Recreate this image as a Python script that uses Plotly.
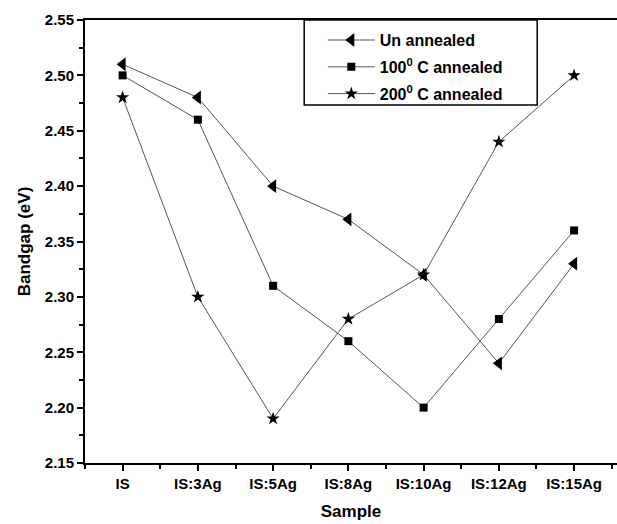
import plotly.graph_objects as go

samples = ["IS", "IS:3Ag", "IS:5Ag", "IS:8Ag", "IS:10Ag", "IS:12Ag", "IS:15Ag"]
un_annealed = [2.51, 2.48, 2.40, 2.37, 2.32, 2.24, 2.33]
annealed_100 = [2.50, 2.46, 2.31, 2.26, 2.20, 2.28, 2.36]
annealed_200 = [2.48, 2.30, 2.19, 2.28, 2.32, 2.44, 2.50]

xpos = list(range(len(samples)))
line_style = dict(color="#555555", width=1)

fig = go.Figure()
fig.add_trace(go.Scatter(x=xpos, y=un_annealed, mode="lines+markers", name="Un annealed", legendgroup="a",
                         line=line_style, marker=dict(symbol="triangle-left", size=12, color="black")))
fig.add_trace(go.Scatter(x=xpos, y=annealed_100, mode="lines+markers", name="100<sup>0</sup> C annealed", legendgroup="b",
                         line=line_style, marker=dict(symbol="square", size=8, color="black")))
fig.add_trace(go.Scatter(x=xpos, y=annealed_200, mode="lines+markers", name="200<sup>0</sup> C annealed", legendgroup="c",
                         line=line_style, marker=dict(symbol="star", size=10, color="black")))

font_family = "Liberation Sans, Arial, sans-serif"
fig.update_layout(
    width=617, height=524,
    margin=dict(l=85, r=0, t=20, b=61),
    plot_bgcolor="white", paper_bgcolor="white",
    font=dict(family=font_family, color="black"),
    showlegend=True,
    legend=dict(x=0.447, y=0.993, xanchor="left", yanchor="top",
                borderwidth=0, bgcolor="rgba(0,0,0,0)",
                font=dict(size=16, family=font_family, color="black", weight="bold"),
                tracegroupgap=3, itemwidth=47),
    shapes=[dict(type="rect", xref="paper", yref="paper", x0=0.412, x1=0.850, y0=0.808, y1=1.0,
                 line=dict(color="black", width=1.5), fillcolor="rgba(0,0,0,0)", layer="above")],
    xaxis=dict(
        range=[-0.5, 6.57], tickmode="array", tickvals=xpos, ticktext=samples,
        showline=True, linecolor="black", linewidth=2, mirror=True,
        ticks="outside", ticklen=6, tickwidth=1.5, tickcolor="black",
        minor=dict(tickmode="linear", tick0=-0.5, dtick=1, ticks="outside", ticklen=4, tickwidth=1.5, tickcolor="black"),
        showgrid=False, zeroline=False,
        tickfont=dict(size=15, family=font_family, color="black", weight="bold"),
        title=dict(text="Sample", font=dict(size=17, family=font_family, color="black", weight="bold"), standoff=14),
    ),
    yaxis=dict(
        range=[2.15, 2.55], tickmode="linear", tick0=2.15, dtick=0.05, tickformat=".2f",
        showline=True, linecolor="black", linewidth=2, mirror=False,
        ticks="outside", ticklen=6, tickwidth=1.5, tickcolor="black",
        minor=dict(tickmode="linear", tick0=2.15, dtick=0.025, ticks="outside", ticklen=4, tickwidth=1.5, tickcolor="black"),
        showgrid=False, zeroline=False,
        tickfont=dict(size=15, family=font_family, color="black", weight="bold"),
        title=dict(text="Bandgap (eV)", font=dict(size=17, family=font_family, color="black", weight="bold"), standoff=10),
    ),
)

fig.write_html("out.html")
